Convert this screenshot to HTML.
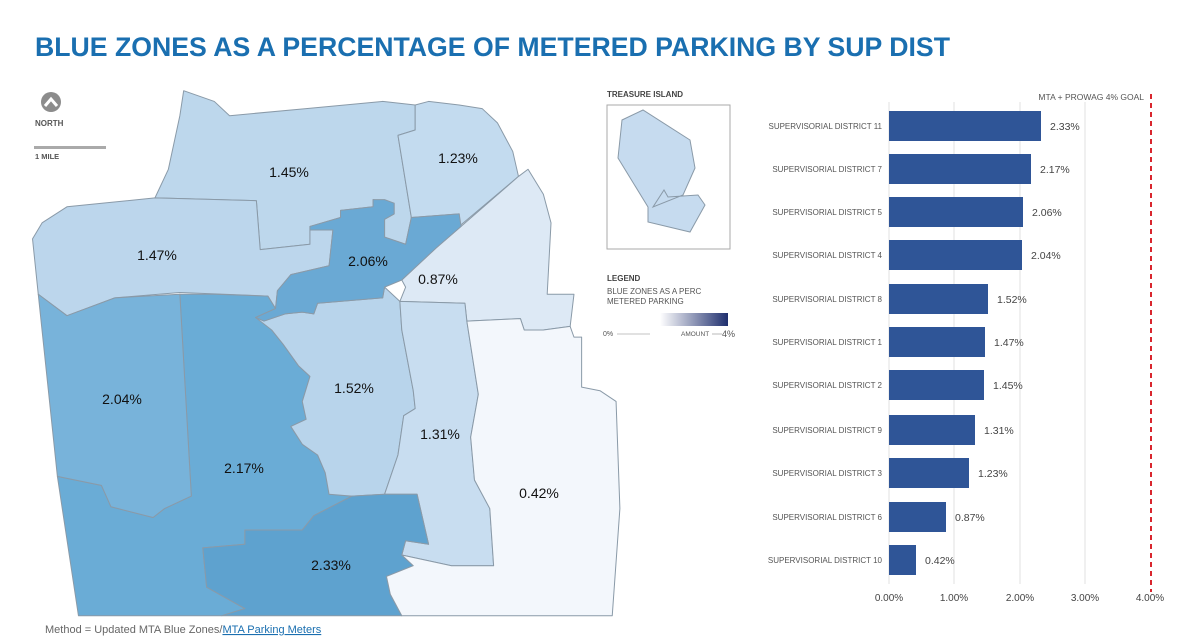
<!DOCTYPE html>
<html><head><meta charset="utf-8"><style>
html,body{margin:0;padding:0;background:#fff;}
svg{display:block;font-family:"Liberation Sans",sans-serif;}
.d{stroke:#8a9aa8;stroke-width:1;vector-effect:non-scaling-stroke;stroke-linejoin:round;}
.ml{font-size:14px;fill:#111;text-anchor:middle;}
.bl{font-size:8px;fill:#555;text-anchor:end;}
.bv{font-size:10.5px;fill:#444;}
.ax{font-size:10px;fill:#444;text-anchor:middle;}
</style></head><body>
<svg width="1200" height="638" viewBox="0 0 1200 638">
<defs><linearGradient id="lg" x1="0" x2="1"><stop offset="0" stop-color="#fff"/><stop offset="1" stop-color="#1f2f6e"/></linearGradient></defs>
<text x="35" y="56" font-size="27" font-weight="bold" fill="#1a6fb0" textLength="915" lengthAdjust="spacingAndGlyphs">BLUE ZONES AS A PERCENTAGE OF METERED PARKING BY SUP DIST</text>

<g transform="translate(0,80) scale(0.38265,0.35714)">
<polygon class="d" fill="#bdd7ec" points="405,330 440,250 470,100 480,30 560,60 600,100 800,80 1000,60 1085,70 1085,140 1040,155 1075,385 1060,460 1005,440 1005,390 1030,375 1030,345 975,335 975,355 890,365 890,385 810,410 810,460 680,475 670,338"/>
<polygon class="d" fill="#c3dbef" points="1040,155 1085,140 1085,70 1120,60 1200,70 1260,80 1300,120 1340,200 1355,270 1200,410 1200,375 1075,385"/>
<polygon class="d" fill="#dde9f5" points="1205,410 1355,270 1380,250 1420,320 1440,400 1430,600 1500,600 1490,690 1420,700 1370,700 1360,668 1220,675 1215,625 1045,620 1060,580 1050,560 1140,470"/>
<polygon class="d" fill="#bcd6ec" points="85,445 110,400 175,355 405,330 670,338 680,475 810,460 810,420 870,420 860,520 760,545 725,590 720,640 700,605 470,595 300,610 175,660 100,600"/>
<polygon class="d" fill="#6aacd6" points="470,600 560,600 700,605 720,640 668,665 690,675 710,700 740,740 780,800 810,830 790,900 800,950 760,970 790,1020 830,1050 850,1100 860,1160 920,1165 820,1220 790,1260 640,1260 640,1300 530,1310 540,1420 640,1480 580,1500 205,1500 150,1110 265,1135 290,1195 400,1225 430,1200 500,1165"/>
<polygon class="d" fill="#78b3da" points="100,600 175,660 300,610 470,600 500,1165 430,1200 400,1225 290,1195 265,1135 150,1110"/>
<polygon class="d" fill="#b8d4eb" points="668,665 690,675 745,655 790,650 820,655 830,625 1000,610 1005,580 1045,620 1050,700 1080,870 1085,920 1055,940 1040,1050 1005,1160 920,1165 860,1160 850,1100 830,1050 790,1020 760,970 800,950 790,900 810,830 780,800 740,740 710,700"/>
<polygon class="d" fill="#c8ddf0" points="1045,620 1215,625 1220,675 1250,880 1230,1000 1240,1120 1280,1200 1290,1360 1180,1360 1050,1330 1060,1290 1120,1300 1090,1160 1005,1160 1040,1050 1055,940 1085,920 1080,870 1050,700"/>
<polygon class="d" fill="#5ea2cf" points="530,1310 640,1300 640,1260 790,1260 820,1220 920,1165 1005,1160 1090,1160 1120,1300 1060,1290 1050,1330 1080,1360 1010,1390 1020,1440 1050,1500 580,1500 640,1480 540,1420"/>
<polygon class="d" fill="#f3f7fc" points="1220,675 1360,668 1370,700 1420,700 1490,690 1500,720 1520,720 1520,860 1568,870 1610,900 1620,1200 1600,1500 1050,1500 1020,1440 1010,1390 1080,1360 1050,1330 1180,1360 1290,1360 1280,1200 1240,1120 1230,1000 1250,880"/>
<polygon class="d" fill="#6aa9d4" points="810,410 890,385 890,365 975,355 975,335 1005,335 1030,345 1030,375 1005,390 1005,440 1060,460 1075,385 1200,375 1205,410 1140,470 1050,560 1005,580 1000,610 830,625 820,655 790,650 745,655 690,675 668,665 720,640 725,590 760,545 860,520 870,420 810,420"/>
</g>
<text class="ml" x="289" y="177">1.45%</text>
<text class="ml" x="458" y="163">1.23%</text>
<text class="ml" x="157" y="260">1.47%</text>
<text class="ml" x="368" y="266">2.06%</text>
<text class="ml" x="438" y="284">0.87%</text>
<text class="ml" x="122" y="404">2.04%</text>
<text class="ml" x="354" y="393">1.52%</text>
<text class="ml" x="440" y="439">1.31%</text>
<text class="ml" x="244" y="473">2.17%</text>
<text class="ml" x="539" y="498">0.42%</text>
<text class="ml" x="331" y="570">2.33%</text>

<circle cx="51" cy="102" r="10" fill="#8c8c8c"/>
<polyline points="45,106 51,99 57,106" fill="none" stroke="#fff" stroke-width="3"/>
<text x="35" y="126" font-size="8" font-weight="bold" fill="#555">NORTH</text>
<rect x="34" y="146" width="72" height="3" fill="#aaa"/>
<text x="35" y="159" font-size="7.5" font-weight="bold" fill="#555">1 MILE</text>

<text x="607" y="97" font-size="8" font-weight="bold" fill="#444">TREASURE ISLAND</text>
<rect x="607" y="105" width="123" height="144" fill="#fff" stroke="#aaa"/>
<polygon points="622,120 643,110 690,140 695,168 683,195 653,207 664,190 668,197 698,195 705,205 690,232 648,222 648,207 618,158" fill="#c6dbef" stroke="#8a9aa8"/>
<text x="607" y="281" font-size="8" font-weight="bold" fill="#444">LEGEND</text>
<text x="607" y="294" font-size="8" fill="#555">BLUE ZONES AS A  PERC</text>
<text x="607" y="304" font-size="8" fill="#555">METERED PARKING</text>
<rect x="660" y="313" width="68" height="13" fill="url(#lg)"/>
<text x="603" y="336" font-size="7" fill="#555">0%</text>
<line x1="617" y1="334" x2="650" y2="334" stroke="#888" stroke-width="0.6"/>
<text x="681" y="336" font-size="6.5" fill="#555">AMOUNT</text>
<line x1="712" y1="334" x2="722" y2="334" stroke="#888" stroke-width="0.6"/>
<text x="722" y="337" font-size="9" fill="#555">4%</text>

<g stroke="#e2e2e2" stroke-width="1">
<line x1="889" y1="102" x2="889" y2="584"/><line x1="954" y1="102" x2="954" y2="584"/>
<line x1="1020" y1="102" x2="1020" y2="584"/><line x1="1085" y1="102" x2="1085" y2="584"/>
</g>
<line x1="1151" y1="94" x2="1151" y2="592" stroke="#d9262e" stroke-width="2" stroke-dasharray="5,4"/>
<text x="1144" y="100" font-size="8.5" fill="#555" text-anchor="end">MTA + PROWAG 4% GOAL</text>

<g fill="#2f5597">
<rect x="889" y="111" width="152" height="30"/>
<rect x="889" y="154" width="142" height="30"/>
<rect x="889" y="197" width="134" height="30"/>
<rect x="889" y="240" width="133" height="30"/>
<rect x="889" y="284" width="99" height="30"/>
<rect x="889" y="327" width="96" height="30"/>
<rect x="889" y="370" width="95" height="30"/>
<rect x="889" y="415" width="86" height="30"/>
<rect x="889" y="458" width="80" height="30"/>
<rect x="889" y="502" width="57" height="30"/>
<rect x="889" y="545" width="27" height="30"/>
</g>
<text class="bl" x="882" y="129">SUPERVISORIAL DISTRICT 11</text>
<text class="bl" x="882" y="172">SUPERVISORIAL DISTRICT 7</text>
<text class="bl" x="882" y="215">SUPERVISORIAL DISTRICT 5</text>
<text class="bl" x="882" y="258">SUPERVISORIAL DISTRICT 4</text>
<text class="bl" x="882" y="302">SUPERVISORIAL DISTRICT 8</text>
<text class="bl" x="882" y="345">SUPERVISORIAL DISTRICT 1</text>
<text class="bl" x="882" y="388">SUPERVISORIAL DISTRICT 2</text>
<text class="bl" x="882" y="433">SUPERVISORIAL DISTRICT 9</text>
<text class="bl" x="882" y="476">SUPERVISORIAL DISTRICT 3</text>
<text class="bl" x="882" y="520">SUPERVISORIAL DISTRICT 6</text>
<text class="bl" x="882" y="563">SUPERVISORIAL DISTRICT 10</text>
<text class="bv" x="1050" y="130">2.33%</text>
<text class="bv" x="1040" y="173">2.17%</text>
<text class="bv" x="1032" y="216">2.06%</text>
<text class="bv" x="1031" y="259">2.04%</text>
<text class="bv" x="997" y="303">1.52%</text>
<text class="bv" x="994" y="346">1.47%</text>
<text class="bv" x="993" y="389">1.45%</text>
<text class="bv" x="984" y="434">1.31%</text>
<text class="bv" x="978" y="477">1.23%</text>
<text class="bv" x="955" y="521">0.87%</text>
<text class="bv" x="925" y="564">0.42%</text>
<text class="ax" x="889" y="601">0.00%</text>
<text class="ax" x="954" y="601">1.00%</text>
<text class="ax" x="1020" y="601">2.00%</text>
<text class="ax" x="1085" y="601">3.00%</text>
<text class="ax" x="1150" y="601">4.00%</text>

<text x="45" y="633" font-size="11" fill="#666">Method = Updated MTA Blue Zones/<tspan fill="#1a6fb0" text-decoration="underline">MTA Parking Meters</tspan></text>
</svg>
</body></html>
